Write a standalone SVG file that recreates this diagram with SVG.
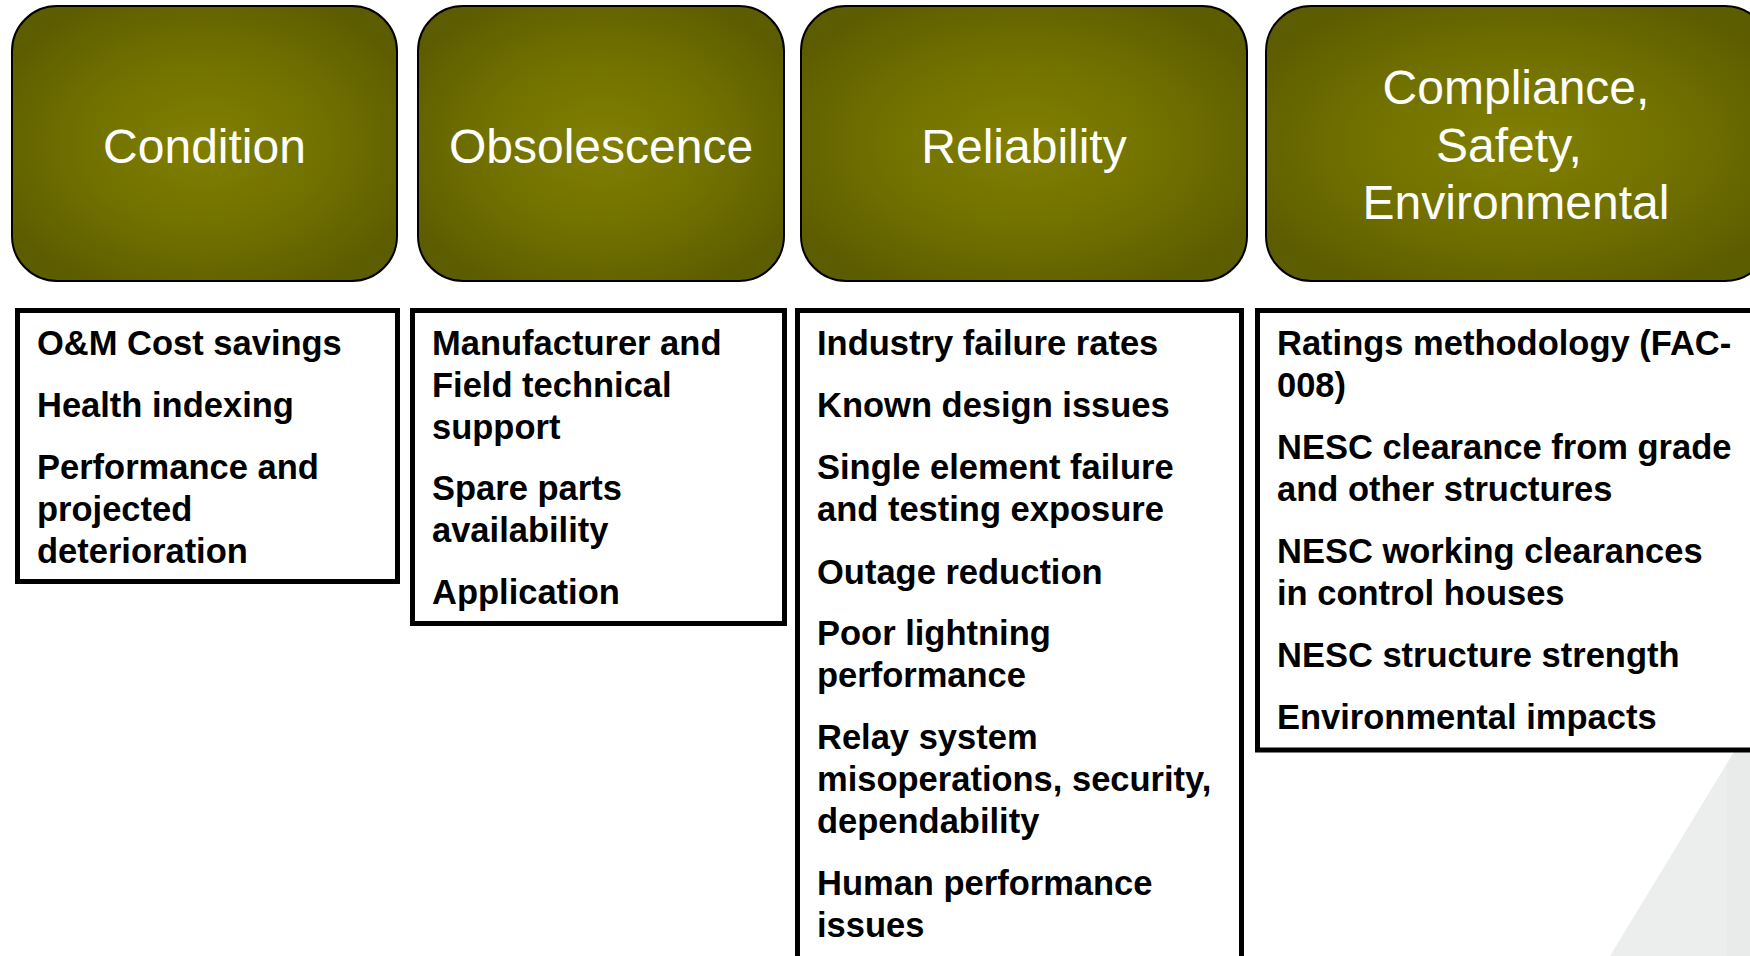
<svg xmlns="http://www.w3.org/2000/svg" width="1750" height="956" viewBox="0 0 1750 956">
  <defs>
    <radialGradient id="olive" cx="0.5" cy="0.5" r="0.6" fx="0.5" fy="0.5">
      <stop offset="0" stop-color="#818000"/>
      <stop offset="0.55" stop-color="#707000"/>
      <stop offset="1" stop-color="#5c5c00"/>
    </radialGradient>
  </defs>
  <style>
    .hdr { fill: url(#olive); stroke: #000; stroke-width: 2; }
    .htxt { font-family: "Liberation Sans", Arial, sans-serif; font-size: 48px; fill: #fff; text-anchor: middle; }
    .box { fill: #fff; stroke: #000; stroke-width: 5; }
    .btxt { font-family: "Liberation Sans", Arial, sans-serif; font-size: 34.5px; font-weight: bold; fill: #000; }
  </style>
  <rect x="0" y="0" width="1750" height="956" fill="#fff"/>
  <g id="background">
    <polygon points="1610,956 1752,722 1752,956" fill="#eceeee"/>
    <polygon points="1727,764 1752,722 1752,956 1727,956" fill="#e9ebeb"/>
  </g>

  <g id="hdr-condition">
    <rect class="hdr" x="12" y="6" width="385" height="275" rx="45" ry="45"/>
    <text class="htxt" x="204.5" y="163">Condition</text>
  </g>
  <g id="hdr-obsolescence">
    <rect class="hdr" x="418" y="6" width="366" height="275" rx="45" ry="45"/>
    <text class="htxt" x="601" y="163">Obsolescence</text>
  </g>
  <g id="hdr-reliability">
    <rect class="hdr" x="801" y="6" width="446" height="275" rx="45" ry="45"/>
    <text class="htxt" x="1024" y="163">Reliability</text>
  </g>
  <g id="hdr-compliance">
    <rect class="hdr" x="1266" y="6" width="504" height="275" rx="45" ry="45"/>
    <text class="htxt" x="1516" y="104">Compliance,</text>
    <text class="htxt" x="1509" y="162">Safety,</text>
    <text class="htxt" x="1516" y="219">Environmental</text>
  </g>

  <g id="list-condition">
    <rect class="box" x="17.5" y="310.5" width="380" height="271"/>
    <text class="btxt" x="37" y="355">O&amp;M Cost savings</text>
    <text class="btxt" x="37" y="417">Health indexing</text>
    <text class="btxt" x="37" y="479">Performance and</text>
    <text class="btxt" x="37" y="521">projected</text>
    <text class="btxt" x="37" y="563">deterioration</text>
  </g>
  <g id="list-obsolescence">
    <rect class="box" x="412.5" y="310.5" width="372" height="313"/>
    <text class="btxt" x="432" y="355">Manufacturer and</text>
    <text class="btxt" x="432" y="397">Field technical</text>
    <text class="btxt" x="432" y="439">support</text>
    <text class="btxt" x="432" y="500">Spare parts</text>
    <text class="btxt" x="432" y="542">availability</text>
    <text class="btxt" x="432" y="604">Application</text>
  </g>
  <g id="list-reliability">
    <rect class="box" x="797.5" y="310.5" width="444" height="660"/>
    <text class="btxt" x="817" y="355">Industry failure rates</text>
    <text class="btxt" x="817" y="417">Known design issues</text>
    <text class="btxt" x="817" y="479">Single element failure</text>
    <text class="btxt" x="817" y="521">and testing exposure</text>
    <text class="btxt" x="817" y="584">Outage reduction</text>
    <text class="btxt" x="817" y="645">Poor lightning</text>
    <text class="btxt" x="817" y="687">performance</text>
    <text class="btxt" x="817" y="749">Relay system</text>
    <text class="btxt" x="817" y="791">misoperations, security,</text>
    <text class="btxt" x="817" y="833">dependability</text>
    <text class="btxt" x="817" y="895">Human performance</text>
    <text class="btxt" x="817" y="937">issues</text>
  </g>
  <g id="list-compliance">
    <rect class="box" x="1257.5" y="310.5" width="520" height="439.5"/>
    <text class="btxt" x="1277" y="355">Ratings methodology (FAC-</text>
    <text class="btxt" x="1277" y="397">008)</text>
    <text class="btxt" x="1277" y="459">NESC clearance from grade</text>
    <text class="btxt" x="1277" y="501">and other structures</text>
    <text class="btxt" x="1277" y="563">NESC working clearances</text>
    <text class="btxt" x="1277" y="605">in control houses</text>
    <text class="btxt" x="1277" y="667">NESC structure strength</text>
    <text class="btxt" x="1277" y="729">Environmental impacts</text>
  </g>
  <g id="connectors"/>
</svg>
